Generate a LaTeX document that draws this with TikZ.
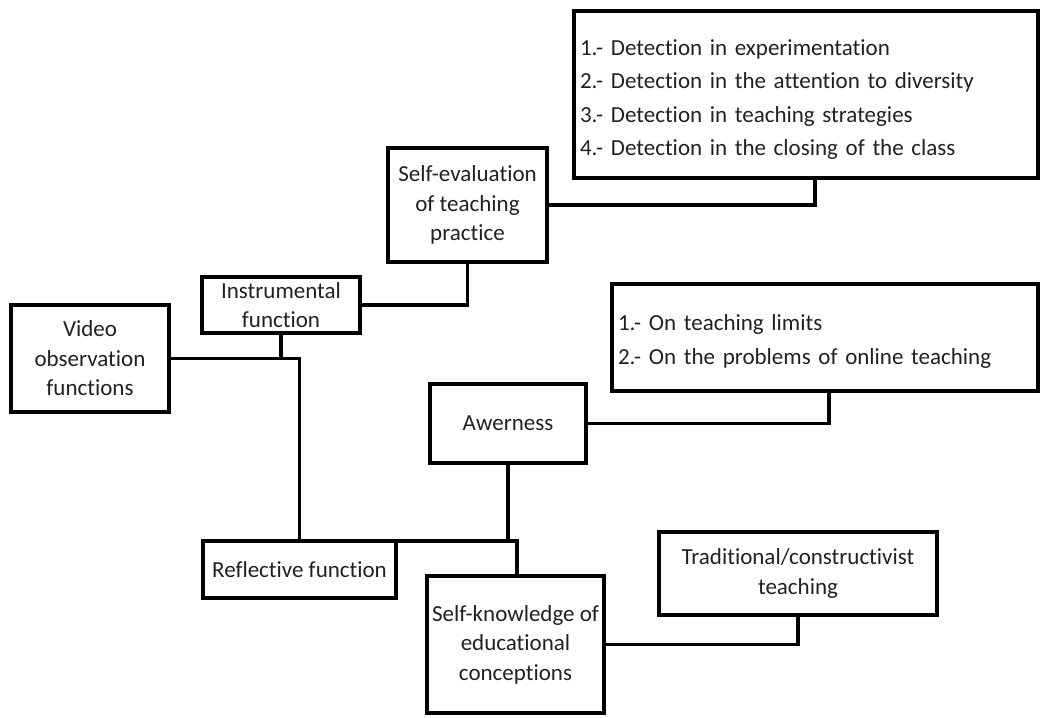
\documentclass[tikz,border=0pt]{standalone}
\usepackage{fontspec}
\setmainfont{Carlito}[Ligatures=NoCommon]

\begin{document}
\begin{tikzpicture}[x=1pt, y=-1pt,
        box/.style={draw, line width=3.2pt, inner xsep=1pt, inner ysep=0pt, outer sep=0pt,
            align=center, text=black!87, font=\fontsize{23}{29.5}\selectfont},
        listbox/.style={box, align=left, inner xsep=6pt, font=\fontsize{23}{33.5}\selectfont},
        conn/.style={line width=3.2pt}]

        \useasboundingbox (0,0) rectangle (1043,717);

        % Main functions
        \node[box, minimum width=158pt, minimum height=107pt] (video) at (90,358.5) {Video\\observation\\functions};
        \node[box, minimum width=158pt, minimum height=56pt] (instr) at (281,305) {Instrumental\\function};
        \node[box, minimum width=193pt, minimum height=57pt] (reflect) at (299.5,569.5) {Reflective function};

        % Instrumental branch
        \node[box, minimum width=159pt, minimum height=114pt] (selfev) at (467.5,205) {Self-evaluation\\of teaching\\practice};
        \node[listbox, text width=452pt, minimum height=167pt] (detect) at (806,94.5) {
            \rule{0pt}{26pt}1.- Detection in experimentation\\
            2.- Detection in the attention to diversity\\
            3.- Detection in teaching strategies\\
            4.- Detection in the closing of the class
        };

        % Reflective branch
        \node[box, minimum width=156pt, minimum height=79pt] (awer) at (508,423.5) {Awerness};
        \node[listbox, text width=414pt, minimum height=107pt] (online) at (825,337.5) {
            \rule{0pt}{24pt}1.- On teaching limits\\
            2.- On the problems of online teaching
        };
        \node[box, minimum width=177pt, minimum height=137pt] (selfkn) at (515.5,644.5) {Self-knowledge of\\educational\\conceptions};
        \node[box, minimum width=278pt, minimum height=83pt] (trad) at (798,573.5) {Traditional/constructivist\\teaching};

        % Connectors
        \draw[conn] (video.east) -| (reflect.north);
        \draw[conn] (instr.south) -- (instr.south |- video.east);
        \draw[conn] (instr.east) -| (selfev.south);
        \draw[conn] (selfev.east) -| ([xshift=9pt]detect.south);
        \draw[conn] (reflect.north east) -| ([xshift=1.5pt]selfkn.north);
        \draw[conn] (awer.south) -- (awer.south |- reflect.north east);
        \draw[conn] (awer.east) -| ([xshift=4pt]online.south);
        \draw[conn] (selfkn.east) -| (trad.south);

    \end{tikzpicture}
\end{document}
